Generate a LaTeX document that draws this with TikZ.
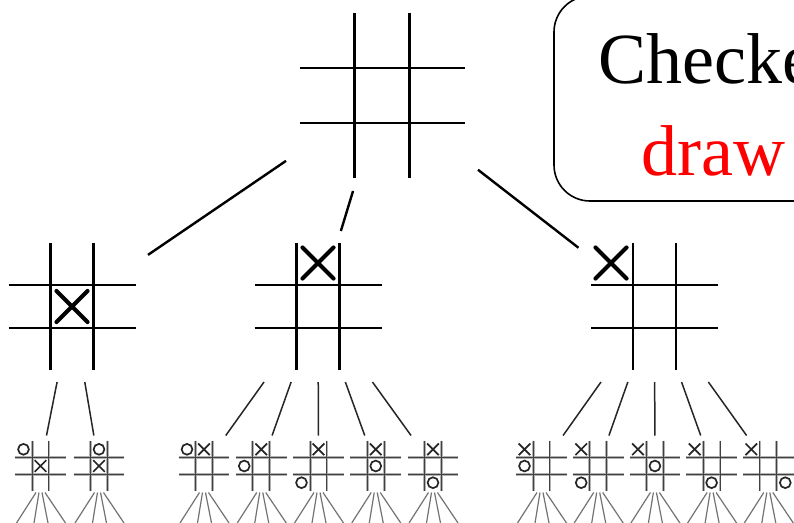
\documentclass[tikz,border=0pt]{standalone}
\usepackage{fontspec}
\setmainfont{Liberation Serif}
\usetikzlibrary{calc}
\newcommand\gridlines[3]{\draw[#1] (-#2,-#3) -- (-#2,#3) (#2,-#3) -- (#2,#3) (-#3,-#2) -- (#3,-#2) (-#3,#2) -- (#3,#2);}
\newcommand\bigboard[1]{\begin{scope}[shift={(#1.center)}]\gridlines{bgrid}{27.5}{82.5}\end{scope}}
\newcommand\midboard[3]{\begin{scope}[shift={(#1.center)}]\gridlines{mgrid}{21.5}{63.5}%
  \draw[bigx,shift={(#2,#3)}] (-15.5,-15.5) -- (15.5,15.5) (-15.5,15.5) -- (15.5,-15.5);\end{scope}}
\newcommand\smallboard[3]{\begin{scope}[shift={(#1.center)}]%
  \gridlines{sgridA}{8.4}{25.3}\gridlines{sgridB}{8.4}{25.3}%
  \foreach \c/\r in {#2}{\draw[smark,shift={(17*\c-17,16.7*\r-16.7)}] (-5.8,-5.8) -- (5.8,5.8) (-5.8,5.8) -- (5.8,-5.8);}%
  \foreach \c/\r in {#3}{\draw[smark,shift={(17*\c-17,16.7*\r-16.7)}] (0,0) circle[radius=5.4];}%
  \foreach \t/\b in {-4.5/-24,-1.5/-6.5,1.5/7.5,4.5/25}{\draw[fanline] (\t,26.5) -- (\b,57);}%
\end{scope}}
\begin{document}
\begin{tikzpicture}[x=1pt,y=-1pt,
  bgrid/.style={line width=2.6pt},
  mgrid/.style={line width=2.4pt},
  bigx/.style={line width=4.2pt,line cap=round},
  sgridA/.style={line width=2.8pt,black!30},
  sgridB/.style={line width=1pt,black!75},
  smark/.style={line width=1.7pt,black!85},
  conn/.style={line width=2.4pt},
  subconn/.style={line width=1.5pt,black!85},
  fanline/.style={line width=1.2pt,black!55},
  boardbox/.style={draw=none,inner sep=0,outer sep=0},
  topbox/.style={boardbox,minimum width=192pt,minimum height=191pt},
  midbox/.style={boardbox,minimum width=152pt,minimum height=151pt},
  smallbox/.style={boardbox,minimum width=62pt,minimum height=61pt},
  callout/.style={line width=1.6pt,rounded corners=36pt},
  bigtext/.style={anchor=base west,inner sep=0,font=\fontsize{72}{86}\selectfont}
]
\useasboundingbox (0,0) rectangle (794,522);
\clip (0,0) rectangle (794,522);
\fill[white] (0,0) rectangle (794,522);

% board nodes
\node[topbox] (top) at (382,95.5) {};
\node[midbox] (mL) at (72,306.5) {};
\node[midbox] (mM) at (318,306.5) {};
\node[midbox] (mR) at (654.5,306.5) {};
\node[smallbox] (sL1) at (40.5,466) {};
\node[smallbox] (sL2) at (99,466) {};
\node[smallbox] (sM1) at (204,466) {};
\node[smallbox] (sM2) at (261.25,466) {};
\node[smallbox] (sM3) at (318.5,466) {};
\node[smallbox] (sM4) at (375.75,466) {};
\node[smallbox] (sM5) at (433,466) {};
\node[smallbox] (sR1) at (541.5,466) {};
\node[smallbox] (sR2) at (598.2,466) {};
\node[smallbox] (sR3) at (654.9,466) {};
\node[smallbox] (sR4) at (711.6,466) {};
\node[smallbox] (sR5) at (768.3,466) {};

% boards
\bigboard{top}
\midboard{mL}{0}{0}
\midboard{mM}{0}{-43.5}
\midboard{mR}{-43.5}{-43.5}
\smallboard{sL1}{1/1}{0/0}
\smallboard{sL2}{1/1}{1/0}
\smallboard{sM1}{1/0}{0/0}
\smallboard{sM2}{1/0}{0/1}
\smallboard{sM3}{1/0}{0/2}
\smallboard{sM4}{1/0}{1/1}
\smallboard{sM5}{1/0}{1/2}
\smallboard{sR1}{0/0}{0/1}
\smallboard{sR2}{0/0}{0/2}
\smallboard{sR3}{0/0}{1/1}
\smallboard{sR4}{0/0}{1/2}
\smallboard{sR5}{0/0}{2/2}

% connectors
\foreach \m in {mL,mM,mR}{\draw[conn] (top) -- (\m);}
\foreach \s in {sL1,sL2}{\draw[subconn] (mL) -- (\s);}
\foreach \s in {sM1,sM2,sM3,sM4,sM5}{\draw[subconn] (mM) -- (\s);}
\foreach \s in {sR1,sR2,sR3,sR4,sR5}{\draw[subconn] (mR) -- (\s);}

% callout box
\draw[callout] (554,-4) coordinate (boxnw) rectangle (880,201);
\node[bigtext] (t1) at (598,83) {Checked};
\node[bigtext,text=red] (t2) at (641,175) {draw};
\end{tikzpicture}
\end{document}
